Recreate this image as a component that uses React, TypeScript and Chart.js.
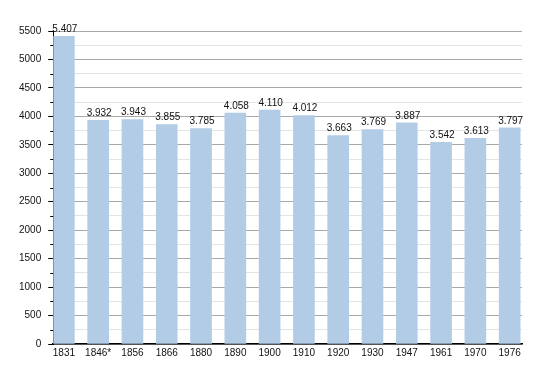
import React, { useEffect, useRef } from "react";
import { Chart, registerables } from "chart.js";

Chart.register(...registerables);

const years = ["1831", "1846*", "1856", "1866", "1880", "1890", "1900", "1910", "1920", "1930", "1947", "1961", "1970", "1976"];
const population = [5407, 3932, 3943, 3855, 3785, 4058, 4110, 4012, 3663, 3769, 3887, 3542, 3613, 3797];
const valueLabels = ["5.407", "3.932", "3.943", "3.855", "3.785", "4.058", "4.110", "4.012", "3.663", "3.769", "3.887", "3.542", "3.613", "3.797"];

const FONT = "'Liberation Sans', Arial, sans-serif";

const labelPlugin = {
  id: "valueLabels",
  afterDatasetsDraw(chart: any) {
    const ctx = chart.ctx;
    const meta = chart.getDatasetMeta(0);
    ctx.save();
    ctx.font = `10px ${FONT}`;
    ctx.fillStyle = "#111";
    ctx.textAlign = "center";
    ctx.textBaseline = "bottom";
    meta.data.forEach((bar: any, i: number) => {
      ctx.fillText(valueLabels[i], bar.x + 1, bar.y - 2);
    });
    ctx.restore();
  },
};

const minorTickPlugin = {
  id: "minorTicks",
  afterDraw(chart: any) {
    const y = chart.scales.y;
    const ctx = chart.ctx;
    const x0 = chart.chartArea.left;
    ctx.save();
    ctx.strokeStyle = "#000";
    ctx.lineWidth = 1;
    y.ticks.forEach((t: any) => {
      if (t.value % 500 !== 0) {
        const py = Math.round(y.getPixelForValue(t.value)) + 0.5;
        ctx.beginPath();
        ctx.moveTo(x0 - 3, py);
        ctx.lineTo(x0, py);
        ctx.stroke();
      }
    });
    ctx.restore();
  },
};

export default function App() {
  const ref = useRef<HTMLCanvasElement>(null);
  useEffect(() => {
    document.body.style.margin = "0";
    const chart = new Chart(ref.current!, {
      type: "bar",
      data: {
        datasets: [
          {
            data: population.map((v, i) => ({ x: i, y: v })),
            backgroundColor: "#b3cce6",
            barThickness: 21,
          },
        ],
      },
      options: {
        animation: false,
        responsive: false,
        maintainAspectRatio: false,
        layout: { padding: { top: 31, right: 28, bottom: 11, left: 12 } },
        plugins: { legend: { display: false }, tooltip: { enabled: false } },
        scales: {
          x: {
            type: "linear",
            offset: false,
            min: -0.31,
            max: 13.36,
            afterBuildTicks: (axis: any) => {
              axis.ticks = years.map((_, i) => ({ value: i }));
            },
            ticks: {
              callback: (v: any) => years[v] ?? "",
              font: { family: FONT, size: 10 },
              color: "#111",
              maxRotation: 0,
              autoSkip: false,
              padding: 3,
            },
            grid: { display: true, color: "rgba(0,0,0,0)", drawTicks: false },
            border: { display: true, color: "#000", width: 1.5 },
          },
          y: {
            min: 0,
            max: 5500,
            ticks: {
              stepSize: 250,
              autoSkip: false,
              callback: (v: any) => (v % 500 === 0 ? String(v) : ""),
              font: { family: FONT, size: 10 },
              color: "#111",
              padding: 7,
            },
            grid: {
              color: (c: any) => (c.tick && c.tick.value % 500 === 0 ? "#a9a9a9" : "#e4e4e4"),
              tickColor: (c: any) => (c.tick && c.tick.value % 500 === 0 ? "#000" : "rgba(0,0,0,0)"),
              tickLength: 5,
            },
            border: { display: true, color: "#000", width: 1 },
          },
        },
      },
      plugins: [labelPlugin, minorTickPlugin],
    } as any);
    return () => chart.destroy();
  }, []);
  return (
    <div style={{ width: 550, height: 373 }}>
      <canvas ref={ref} width={550} height={373} style={{ width: 550, height: 373 }} />
    </div>
  );
}
